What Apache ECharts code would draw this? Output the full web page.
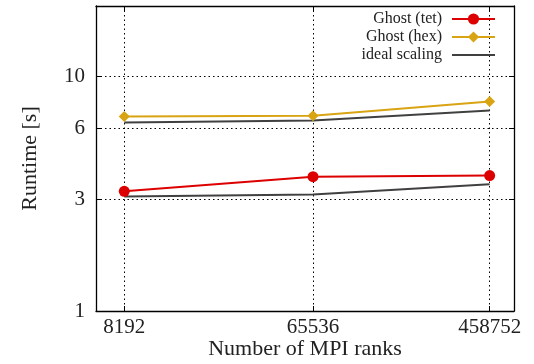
<!DOCTYPE html>
<html><head><meta charset="utf-8">
<script src="https://cdn.jsdelivr.net/npm/echarts@6/dist/echarts.min.js"></script>
<style>html,body{margin:0;padding:0;background:#fff}#c{width:534px;height:364px}</style>
</head><body><div id="c"></div>
<script>
const ranks = [8192, 65536, 458752];
const tetRuntime = [3.24, 3.74, 3.78];
const hexRuntime = [6.76, 6.80, 7.83];
const idealHex = [6.37, 6.50, 7.17];
const idealTet = [3.08, 3.14, 3.47];
const yTicks = [1, 3, 6, 10];
const xTicks = ranks;

const pairs = ys => ranks.map((r, i) => [r, ys[i]]);
const FONT = '"Liberation Serif", "DejaVu Serif", serif';
const RED = '#dd0000', GOLD = '#d9a413', GRAY = '#404040';

const baseX = {
  type: 'log', logBase: 2, min: 6000, max: 600000,
  axisLine: {show: true, lineStyle: {color: '#000', width: 1.3}},
  axisTick: {show: true, inside: true, length: 5, customValues: xTicks, lineStyle: {color: '#000'}},
  axisLabel: {show: true, customValues: xTicks, formatter: v => String(v), fontFamily: FONT, fontSize: 21, color: '#222', margin: 6},
  splitLine: {show: true, lineStyle: {color: '#000', type: [1.5, 3], width: 1}}
};
const baseY = {
  type: 'log', logBase: 10, min: 1, max: 20,
  axisLine: {show: true, lineStyle: {color: '#000', width: 1.3}},
  axisTick: {show: true, inside: true, length: 5, customValues: yTicks, lineStyle: {color: '#000'}},
  axisLabel: {show: true, customValues: yTicks, formatter: v => String(v), fontFamily: FONT, fontSize: 21, color: '#222', margin: 11},
  splitLine: {show: true, lineStyle: {color: '#000', type: [1.5, 3], width: 1}}
};

const chart = echarts.init(document.getElementById('c'), null, {renderer: 'canvas'});
chart.setOption({
  animation: false,
  backgroundColor: '#fff',
  grid: {left: 96, right: 20, top: 6, bottom: 53, containLabel: false, outerBoundsMode: 'none'},
  xAxis: [
    Object.assign({}, baseX, {position: 'bottom', name: 'Number of MPI ranks', nameLocation: 'middle', nameGap: 27,
      nameMoveOverlap: false,
      nameTextStyle: {fontFamily: FONT, fontSize: 22, color: '#222'}}),
    Object.assign({}, baseX, {position: 'top', axisLabel: {show: false}, splitLine: {show: false}})
  ],
  yAxis: [
    Object.assign({}, baseY, {position: 'left', name: 'Runtime [s]', nameLocation: 'middle', nameGap: 55,
      nameMoveOverlap: false,
      nameTextStyle: {fontFamily: FONT, fontSize: 22, color: '#222'}}),
    Object.assign({}, baseY, {position: 'right', axisLabel: {show: false}, splitLine: {show: false}})
  ],
  legend: {
    orient: 'vertical', right: 38, top: 11, align: 'right', padding: 0,
    itemWidth: 43, itemHeight: 14, itemGap: 2,
    textStyle: {fontFamily: FONT, fontSize: 16, lineHeight: 16, color: '#222', padding: [0, 5, 0, 0]},
    data: ['Ghost (tet)', 'Ghost (hex)', {name: 'ideal scaling', icon: 'path://M0,0 L43,0 L43,2 L0,2 Z'}]
  },
  series: [
    {name: 'ideal scaling', type: 'line', data: pairs(idealHex), symbol: 'none',
      lineStyle: {color: GRAY, width: 2}, itemStyle: {color: GRAY}, z: 2},
    {name: 'ideal scaling', type: 'line', data: pairs(idealTet), symbol: 'none',
      lineStyle: {color: GRAY, width: 2}, itemStyle: {color: GRAY}, z: 2},
    {name: 'Ghost (tet)', type: 'line', data: pairs(tetRuntime), symbol: 'circle', symbolSize: 11,
      lineStyle: {color: RED, width: 2}, itemStyle: {color: RED}, z: 3},
    {name: 'Ghost (hex)', type: 'line', data: pairs(hexRuntime), symbol: 'diamond', symbolSize: 11,
      lineStyle: {color: GOLD, width: 2}, itemStyle: {color: GOLD}, z: 3}
  ]
});
</script></body></html>
